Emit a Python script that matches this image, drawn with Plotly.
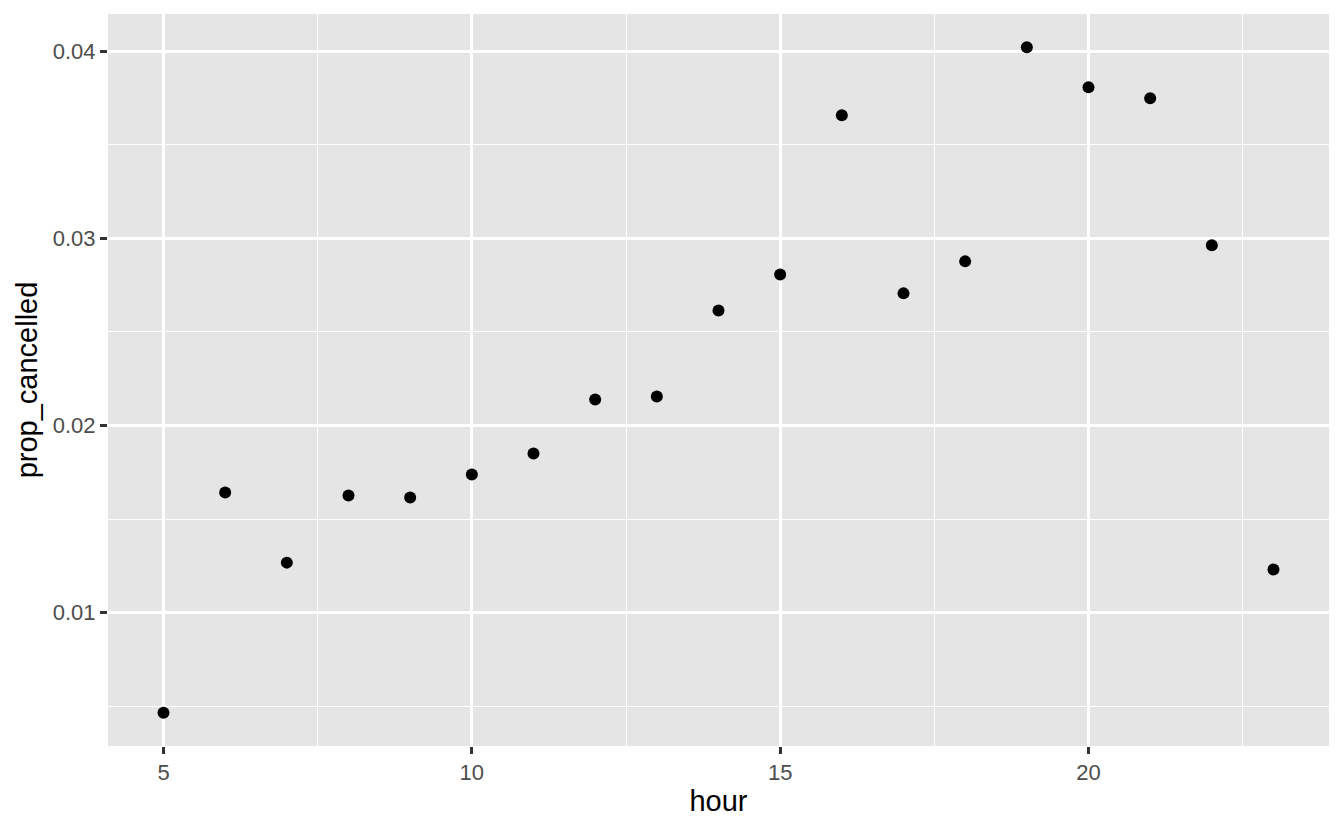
import plotly.graph_objects as go

hour = list(range(5, 24))
prop_cancelled = [0.00465, 0.01642, 0.01267, 0.01626, 0.01615, 0.01738, 0.0185,
                  0.02139, 0.02155, 0.02615, 0.02807, 0.03658, 0.02706, 0.02877,
                  0.04021, 0.03807, 0.03749, 0.02963, 0.0123]

FONT = "Liberation Sans, Arial, Helvetica"

fig = go.Figure(go.Scatter(x=hour, y=prop_cancelled, mode="markers",
                           marker=dict(color="black", size=12)))

axis_common = dict(
    showgrid=True, gridcolor="white", gridwidth=2.8,
    zeroline=False, showline=False,
    ticks="outside", ticklen=7, tickcolor="#333333", tickwidth=2.5,
    tickfont=dict(family=FONT, size=22, color="#4d4d4d"),
)

fig.update_layout(
    width=1328, height=814,
    paper_bgcolor="white", plot_bgcolor="#e5e5e5",
    margin=dict(l=100, r=7, t=6, b=76),
    showlegend=False,
    xaxis=dict(range=[4.1, 23.9], tickvals=[5, 10, 15, 20],
               title=dict(text="hour", font=dict(family=FONT, size=29, color="black"), standoff=6),
               minor=dict(showgrid=True, gridcolor="white", gridwidth=1.4,
                          tickvals=[7.5, 12.5, 17.5, 22.5], ticks=""),
               **axis_common),
    yaxis=dict(range=[0.00287, 0.04199], tickvals=[0.01, 0.02, 0.03, 0.04],
               tickformat=".2f",
               title=dict(text="prop_cancelled", font=dict(family=FONT, size=29, color="black"), standoff=6),
               minor=dict(showgrid=True, gridcolor="white", gridwidth=1.4,
                          tickvals=[0.005, 0.015, 0.025, 0.035], ticks=""),
               **axis_common),
)

fig.write_html("out.html")
